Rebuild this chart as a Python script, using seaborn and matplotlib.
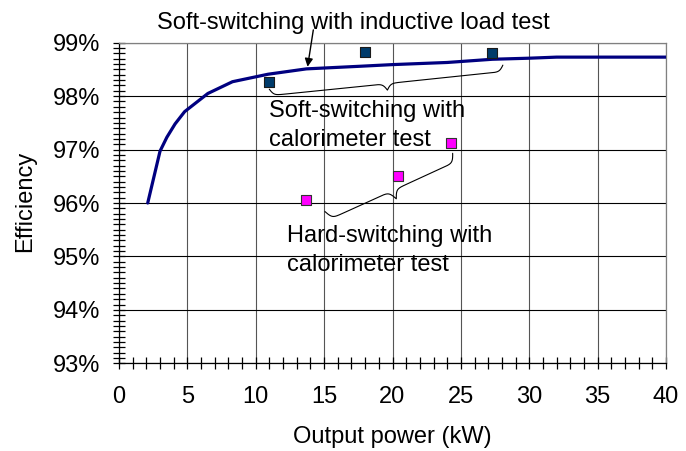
import numpy as np
import matplotlib
matplotlib.use("Agg")
import matplotlib.pyplot as plt
from matplotlib.ticker import MultipleLocator, FuncFormatter
import seaborn as sns

# ------------------------------
# Datos
# ------------------------------
# curva: prueba con carga inductiva (soft-switching)
curve_kw = [2.1, 3.0, 3.5, 4.1, 4.8, 6.5, 8.3, 10.9, 13.7, 17.7, 20.0, 24.0, 27.3, 30.0, 32.0, 40.0]
curve_eff = [96.0, 96.97, 97.23, 97.48, 97.71, 98.05, 98.27, 98.41, 98.51, 98.56, 98.59, 98.63, 98.69, 98.71, 98.73, 98.73]

# puntos: calorímetro soft-switching
soft_kw = [11.0, 18.0, 27.3]
soft_eff = [98.27, 98.83, 98.81]

# puntos: calorímetro hard-switching
hard_kw = [13.7, 20.4, 24.3]
hard_eff = [96.06, 96.50, 97.13]

x_ticks = [0, 5, 10, 15, 20, 25, 30, 35, 40]
y_ticks = [93, 94, 95, 96, 97, 98, 99]

sns.set_style("white")
plt.rcParams["font.family"] = ["Liberation Sans", "DejaVu Sans"]
plt.rcParams["text.color"] = "black"
plt.rcParams["axes.labelcolor"] = "black"
plt.rcParams["xtick.color"] = "black"
plt.rcParams["ytick.color"] = "black"
FS = 17

fig = plt.figure(figsize=(6.86, 4.51), dpi=100)
ax = fig.add_axes([119 / 686, 1 - 363.3 / 451, 547 / 686, 320.6 / 451])

ax.set_xlim(0, 40)
ax.set_ylim(93, 99)

# grid
ax.set_axisbelow(True)
ax.yaxis.grid(True, color="black", lw=0.8)
ax.xaxis.grid(True, color="#555555", lw=0.8)

sns.lineplot(x=curve_kw, y=curve_eff, ax=ax, color="#000080", lw=2.3,
             sort=False, estimator=None, zorder=3)
sns.scatterplot(x=soft_kw, y=soft_eff, ax=ax, marker="s", s=62, color="#003b6b",
                edgecolor="#1a1a1a", linewidth=0.8, zorder=4)
sns.scatterplot(x=hard_kw, y=hard_eff, ax=ax, marker="s", s=62, color="#ff00ff",
                edgecolor="#333333", linewidth=0.8, zorder=4)

# ejes y ticks
ax.xaxis.set_major_locator(MultipleLocator(5))
ax.xaxis.set_minor_locator(MultipleLocator(1))
ax.yaxis.set_major_locator(MultipleLocator(1))
ax.yaxis.set_minor_locator(MultipleLocator(0.1))
ax.set_xticks(x_ticks)
ax.set_yticks(y_ticks)
ax.yaxis.set_major_formatter(FuncFormatter(lambda v, p: f"{v:.0f}%"))
ax.tick_params(which="both", direction="inout", length=8.6, width=0.9, color="black",
               labelcolor="black", bottom=True, left=True, top=False, right=False)
ax.tick_params(axis="y", which="major", pad=9.4, labelsize=FS)
ax.tick_params(axis="x", which="major", pad=12, labelsize=FS)

for side in ["left", "bottom"]:
    ax.spines[side].set_color("black")
    ax.spines[side].set_linewidth(0.9)
for side in ["top", "right"]:
    ax.spines[side].set_color("#808080")
    ax.spines[side].set_linewidth(0.9)

ax.set_xlabel("Output power (kW)", fontsize=FS, color="black")
ax.set_ylabel("Efficiency", fontsize=FS, color="black")
ax.xaxis.set_label_coords(0.5, -0.1956)
ax.yaxis.set_label_coords(-0.152, 0.506)


def brace(ax, p1, p2, depth, beta=0.5):
    # llave curva entre p1 y p2 (datos), profundidad en pixeles
    t = ax.transData
    a = t.transform(p1)
    b = t.transform(p2)
    d = b - a
    L = np.hypot(*d)
    u = d / L
    n = np.array([u[1], -u[0]])
    s = np.linspace(0, L, 401)
    half = s[:201]
    yh = 1 / (1 + np.exp(-beta * (half - half[0]))) + 1 / (1 + np.exp(-beta * (half - half[-1])))
    y = np.concatenate([yh, yh[-2::-1]])
    y = (y - y[0]) / (y.max() - y[0]) * depth
    pts = a + np.outer(s, u) + np.outer(y, n)
    data = t.inverted().transform(pts)
    ax.plot(data[:, 0], data[:, 1], color="black", lw=0.8, clip_on=False, zorder=5)


brace(ax, (10.99, 98.13), (28.07, 98.58), 13)
brace(ax, (15.06, 95.84), (24.40, 96.93), 18)

# textos
ax.text(2.76, 99.25, "Soft-switching with inductive load test", fontsize=FS,
        color="black", ha="left", va="baseline", clip_on=False)
ax.annotate("", xy=(13.79, 98.55), xytext=(14.21, 99.24),
            arrowprops=dict(arrowstyle="-|>", color="black", lw=1.0,
                            mutation_scale=12, shrinkA=0, shrinkB=0),
            annotation_clip=False)
ax.text(10.99, 97.615, "Soft-switching with", fontsize=FS, color="black", ha="left", va="baseline")
ax.text(10.99, 97.067, "calorimeter test", fontsize=FS, color="black", ha="left", va="baseline")
ax.text(12.31, 95.27, "Hard-switching with", fontsize=FS, color="black", ha="left", va="baseline")
ax.text(12.31, 94.73, "calorimeter test", fontsize=FS, color="black", ha="left", va="baseline")

fig.savefig("out.png", dpi=100)
